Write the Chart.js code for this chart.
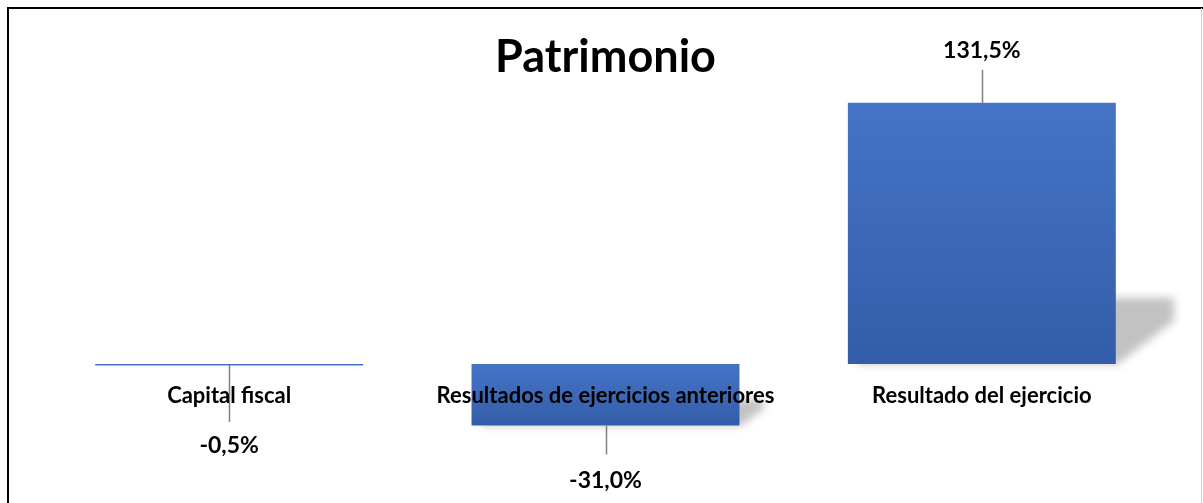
<!DOCTYPE html>
<html>
<head>
<meta charset="utf-8">
<script src="https://cdn.jsdelivr.net/npm/chart.js@4.4.1/dist/chart.umd.min.js"></script>
<style>
  html, body { margin: 0; padding: 0; background: #fff; }
  #wrap { width: 1203px; height: 503px; position: relative; }
</style>
</head>
<body>
<div id="wrap"><canvas id="patChart"></canvas></div>
<script>
// datos del grafico
const categories = ['Capital fiscal', 'Resultados de ejercicios anteriores', 'Resultado del ejercicio'];
const values = [-0.5, -31.0, 131.5];
const chartTitle = 'Patrimonio';

const fmt = v => v.toFixed(1).replace('.', ',') + '%';
const FONT = 'Lato, "Liberation Sans", sans-serif';

// gradient per bar, light on top, darker at the bottom
function barFill(c) {
    const ys = c.chart.scales.y;
    if (!ys || !c.chart.chartArea) return '#4472C4';
    const a = ys.getPixelForValue(c.raw), b = ys.getPixelForValue(0);
    if (!Number.isFinite(a) || !Number.isFinite(b)) return '#4472C4';
    const top = Math.min(a, b), bot = Math.max(a, b);
    if (bot - top < 3) return '#4472C4';
    const g = c.chart.ctx.createLinearGradient(0, top, 0, bot);
    g.addColorStop(0, '#4574C6');
    g.addColorStop(1, '#335DA8');
    return g;
}

const decoPlugin = {
    id: 'deco',
    beforeDraw(chart) {
        const ctx = chart.ctx;
        ctx.save();
        ctx.fillStyle = '#fff';
        ctx.fillRect(0, 0, chart.width, chart.height);
        ctx.restore();
    },
    beforeDatasetsDraw(chart) {
        // sombra en perspectiva detras de cada barra
        const ctx = chart.ctx;
        const meta = chart.getDatasetMeta(0);
        ctx.save();
        ctx.filter = 'blur(4px)';
        ctx.fillStyle = 'rgba(0,0,0,0.24)';
        meta.data.forEach(bar => {
            const top = Math.min(bar.y, bar.base), bot = Math.max(bar.y, bar.base);
            const h = bot - top;
            if (h < 5) return;
            const left = bar.x - bar.width / 2, right = bar.x + bar.width / 2;
            const st = bot - (0.2 * h + 14);
            const w = 0.17 * h + 14;
            ctx.beginPath();
            ctx.moveTo(left + 10, st);
            ctx.lineTo(right + w, st);
            ctx.lineTo(right + w, st + 0.35 * (bot - st));
            ctx.lineTo(right + 2, bot);
            ctx.lineTo(left + 10, bot);
            ctx.closePath();
            ctx.fill();
        });
        ctx.restore();
    },
    afterDatasetsDraw(chart) {
        // etiquetas de datos con lineas guia
        const ctx = chart.ctx;
        const meta = chart.getDatasetMeta(0);
        ctx.save();
        ctx.font = 'bold 23px ' + FONT;
        ctx.textAlign = 'center';
        ctx.textBaseline = 'middle';
        meta.data.forEach((bar, i) => {
            const v = values[i];
            const x = Math.round(bar.x) + 0.5;
            let y0, y1, ty;
            if (v >= 0) {
                y0 = bar.y - 33; y1 = bar.y; ty = bar.y - 52;
            } else if (Math.abs(bar.base - bar.y) < 10) {
                y0 = bar.base + 1; y1 = bar.base + 58; ty = bar.base + 82;
            } else {
                y0 = bar.y; y1 = bar.y + 29; ty = bar.y + 55;
            }
            ctx.strokeStyle = '#7f7f7f';
            ctx.lineWidth = 1.5;
            ctx.beginPath();
            ctx.moveTo(x, y0);
            ctx.lineTo(x, y1);
            ctx.stroke();
            ctx.fillStyle = '#000';
            ctx.fillText(fmt(v), bar.x, ty);
        });
        ctx.restore();
    },
    afterDraw(chart) {
        const ctx = chart.ctx;
        ctx.save();
        ctx.strokeStyle = '#000';
        ctx.lineWidth = 2;
        ctx.beginPath();
        ctx.moveTo(8, chart.height);
        ctx.lineTo(8, 8);
        ctx.lineTo(chart.width, 8);
        ctx.stroke();
        ctx.strokeStyle = '#d0d0d0';
        ctx.lineWidth = 1;
        ctx.beginPath();
        ctx.moveTo(1201.5, 8);
        ctx.lineTo(1201.5, chart.height);
        ctx.stroke();
        ctx.restore();
    }
};

const ctx = document.getElementById('patChart').getContext('2d');
const patChart = new Chart(ctx, {
    type: 'bar',
    data: {
        labels: categories,
        datasets: [{
            data: values,
            backgroundColor: barFill,
            borderColor: '#4472C4',
            borderWidth: 0,
            minBarLength: 1.5,
            barPercentage: 0.712,
            categoryPercentage: 1
        }]
    },
    options: {
        responsive: true,
        maintainAspectRatio: false,
        animation: false,
        layout: { padding: { top: 0, left: 41, right: 33, bottom: 20 } },
        plugins: {
            legend: { display: false },
            tooltip: { enabled: false },
            title: {
                display: true,
                text: chartTitle,
                color: '#000',
                font: { family: FONT, size: 45, weight: 'bold' },
                padding: { top: 30, bottom: 2 }
            }
        },
        scales: {
            x: {
                position: { y: 0 },
                grid: { display: false, drawTicks: false },
                border: { display: false },
                ticks: {
                    z: 1,
                    color: '#000',
                    font: { family: FONT, size: 22, weight: 'bold' },
                    padding: 19,
                    autoSkip: false,
                    maxRotation: 0
                }
            },
            y: {
                display: false,
                min: -60,
                max: 140
            }
        }
    },
    plugins: [decoPlugin]
});
</script>
</body>
</html>
